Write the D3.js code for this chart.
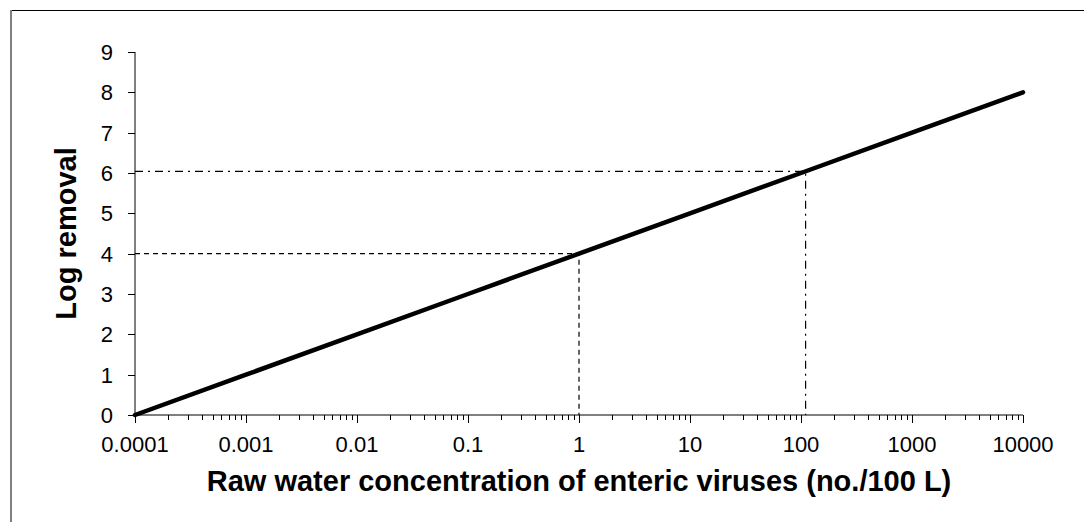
<!DOCTYPE html>
<html>
<head>
<meta charset="utf-8">
<script src="https://cdn.jsdelivr.net/npm/d3@7"></script>
<style>
  body { margin: 0; background: #fff; }
  svg { display: block; font-family: "Liberation Sans", Arial, sans-serif; }
</style>
</head>
<body>
<svg id="chart" width="1084" height="522"></svg>
<script>
// --- data ---
const xTickValues = [0.0001, 0.001, 0.01, 0.1, 1, 10, 100, 1000, 10000];
const xTickLabels = ["0.0001", "0.001", "0.01", "0.1", "1", "10", "100", "1000", "10000"];
const yTickValues = [0, 1, 2, 3, 4, 5, 6, 7, 8, 9];
const concentration = [0.0001, 0.001, 0.01, 0.1, 1, 10, 100, 1000, 10000];
const logRemoval = [0, 1, 2, 3, 4, 5, 6, 7, 8];
// guide lines: [x, y, dash pattern]
const guideX = [1, 110];
const guideY = [4, 6.04];
const guideDash = ["5,4", "8,5,2,5"];

const svg = d3.select("#chart");
const W = 1084, H = 522;
const margin = { left: 135, right: 61, top: 52, bottom: 107 };

// outer frame (only top and left edges show)
svg.append("line").attr("x1", 10).attr("x2", W).attr("y1", 10.5).attr("y2", 10.5)
    .attr("stroke", "#000").attr("stroke-width", 1);
svg.append("line").attr("x1", 11).attr("x2", 11).attr("y1", 10).attr("y2", H)
    .attr("stroke", "#808080").attr("stroke-width", 2);

const x = d3.scaleLog().domain([0.0001, 10000]).range([margin.left, W - margin.right]);
const y = d3.scaleLinear().domain([0, 9]).range([H - margin.bottom, margin.top]);

// x axis with minor ticks
const xAxisG = svg.append("g").attr("transform", `translate(0,${y(0)})`);
xAxisG.append("line").attr("x1", x.range()[0]).attr("x2", x.range()[1])
    .attr("stroke", "#000").attr("stroke-width", 1);
xAxisG.selectAll("line.minor").data(x.ticks())
    .join("line").attr("class", "minor")
    .attr("x1", d => Math.round(x(d)) + 0.5).attr("x2", d => Math.round(x(d)) + 0.5)
    .attr("y1", 0).attr("y2", d => xTickValues.includes(d) ? 8 : 5)
    .attr("stroke", "#000").attr("stroke-width", 1);
xAxisG.selectAll("text").data(xTickValues)
    .join("text")
    .attr("x", d => x(d)).attr("y", 37)
    .attr("text-anchor", "middle")
    .attr("font-size", 22)
    .text((d, i) => xTickLabels[i]);

// y axis
const yAxisG = svg.append("g").attr("transform", `translate(${x.range()[0]},0)`);
yAxisG.append("line").attr("y1", y(0)).attr("y2", y(9))
    .attr("stroke", "#000").attr("stroke-width", 1);
yAxisG.selectAll("line.tick").data(yTickValues)
    .join("line").attr("class", "tick")
    .attr("x1", -7).attr("x2", 0)
    .attr("y1", d => Math.round(y(d)) + 0.5).attr("y2", d => Math.round(y(d)) + 0.5)
    .attr("stroke", "#000").attr("stroke-width", 1);
yAxisG.selectAll("text").data(yTickValues)
    .join("text")
    .attr("x", -22).attr("y", d => y(d))
    .attr("dy", "0.36em")
    .attr("text-anchor", "end")
    .attr("font-size", 22)
    .text(d => d);

// guide lines
guideX.forEach((gx, i) => {
    const path = d3.path();
    path.moveTo(x.range()[0], y(guideY[i]));
    path.lineTo(x(gx), y(guideY[i]));
    path.lineTo(x(gx), y(0));
    svg.append("path").attr("d", path.toString())
        .attr("fill", "none").attr("stroke", "#000").attr("stroke-width", 1.2)
        .attr("stroke-dasharray", guideDash[i]);
});

// main line
const pts = concentration.map((c, i) => [c, logRemoval[i]]);
svg.append("path").datum(pts)
    .attr("fill", "none").attr("stroke", "#000").attr("stroke-width", 4.5)
    .attr("stroke-linecap", "round")
    .attr("d", d3.line().x(d => x(d[0])).y(d => y(d[1])));

// axis titles
svg.append("text")
    .attr("x", (x.range()[0] + x.range()[1]) / 2).attr("y", 491)
    .attr("text-anchor", "middle").attr("font-weight", "bold").attr("font-size", 29)
    .text("Raw water concentration of enteric viruses (no./100 L)");
svg.append("text")
    .attr("transform", `translate(76,${(y(0) + y(9)) / 2}) rotate(-90)`)
    .attr("text-anchor", "middle").attr("font-weight", "bold").attr("font-size", 29)
    .text("Log removal");
</script>
</body>
</html>
